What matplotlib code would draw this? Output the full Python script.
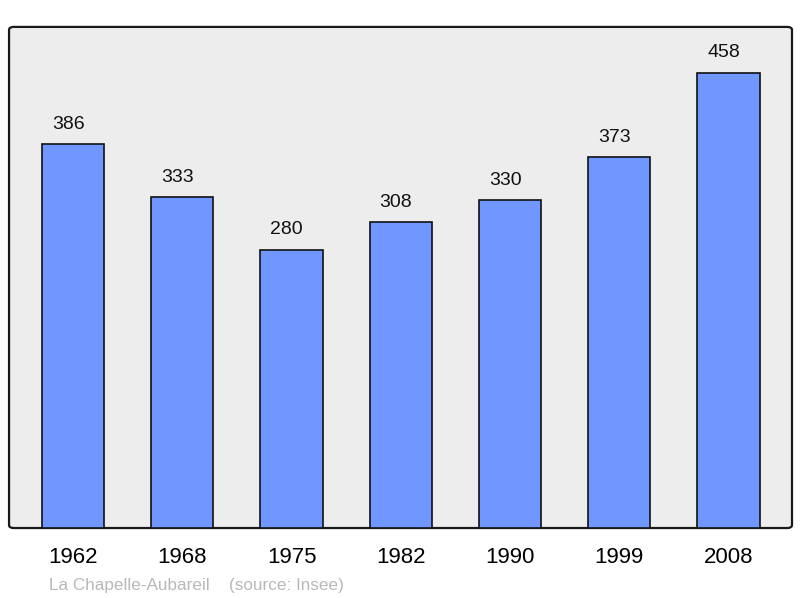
import matplotlib.pyplot as plt
from matplotlib.patches import FancyBboxPatch

plt.rcParams['font.family'] = ['Liberation Sans', 'DejaVu Sans']

years = ['1962', '1968', '1975', '1982', '1990', '1999', '2008']
population = [386, 333, 280, 308, 330, 373, 458]

bar_color = '#7097ff'
bg_color = '#ededed'

fig = plt.figure(figsize=(8, 5.98), dpi=100)
ax = fig.add_axes([0.0113, 0.117, 0.9787, 0.838])
ax.set_facecolor('none')

# fond arrondi du cadre
frame = FancyBboxPatch((0, 0), 1, 1, boxstyle='round,pad=0,rounding_size=0.006',
                       transform=ax.transAxes, facecolor=bg_color, edgecolor='#1a1a1a',
                       linewidth=1.6, zorder=0, clip_on=False)
ax.add_patch(frame)

x = list(range(len(years)))
bars = ax.bar(x, population, width=0.57, color=bar_color, edgecolor='#111111',
              linewidth=1.2, zorder=2)

for xi, v in zip(x, population):
    ax.annotate(str(v), xy=(xi, v), xytext=(-3.5, 11), textcoords='offset points',
                ha='center', va='baseline', fontsize=14, color='#111111')

ax.set_xlim(-0.585, len(years) - 1 + 0.58)
ax.set_ylim(0, 504)
ax.set_xticks(x)
ax.set_xticklabels(years, fontsize=16)
ax.tick_params(axis='x', length=0, pad=14)
ax.set_yticks([])
for s in ax.spines.values():
    s.set_visible(False)

fig.text(49 / 800, 1 - 590 / 598, 'La Chapelle-Aubareil', fontsize=12.3,
         color='#b8b8b8', ha='left', va='baseline')
fig.text(229 / 800, 1 - 590 / 598, '(source: Insee)', fontsize=12.3,
         color='#b8b8b8', ha='left', va='baseline')

plt.savefig('out.png', dpi=100, facecolor='white')
